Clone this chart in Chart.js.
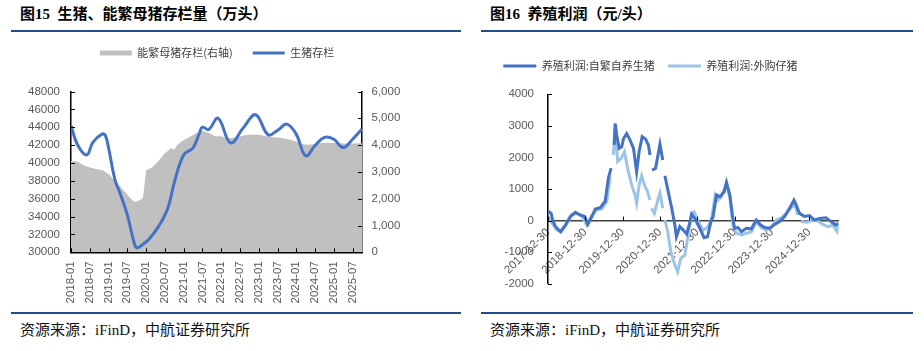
<!DOCTYPE html>
<html lang="zh">
<head>
<meta charset="UTF-8">
<title>生猪存栏与养殖利润</title>
<script src="https://cdn.jsdelivr.net/npm/chart.js"></script>
<style>
    body {
        margin: 0;
        width: 924px;
        height: 351px;
        background: #fff;
        position: relative;
        overflow: hidden;
    }
    .title {
        position: absolute;
        top: 4px;
        font: bold 15px/20px "Liberation Serif", "Noto Sans CJK SC", serif;
        color: #000;
        white-space: nowrap;
    }
    .rule {
        position: absolute;
        height: 2px;
        background: #1f4e8c;
    }
    .source {
        position: absolute;
        top: 320px;
        font: 15px/20px "Liberation Serif", "Noto Sans CJK SC", serif;
        color: #111;
        white-space: nowrap;
    }
    .box { position: absolute; }
</style>
</head>
<body>
    <div class="title" style="left:20px">图15&nbsp;&nbsp;生猪、能繁母猪存栏量（万头）</div>
    <div class="rule" style="left:11px;width:450px;top:30px"></div>
    <div class="box" style="left:0;top:27px;width:434px;height:283px"><canvas id="hogChart"></canvas></div>
    <div class="rule" style="left:11px;width:450px;top:312px"></div>
    <div class="source" style="left:20px">资源来源：iFinD，中航证券研究所</div>

    <div class="title" style="left:490px">图16&nbsp;&nbsp;养殖利润（元/头）</div>
    <div class="rule" style="left:481px;width:432px;top:30px"></div>
    <div class="box" style="left:462px;top:35px;width:432px;height:275px"><canvas id="profitChart"></canvas></div>
    <div class="rule" style="left:481px;width:432px;top:312px"></div>
    <div class="source" style="left:490px">资源来源：iFinD，中航证券研究所</div>

<script>
// 图15：月序号 0 = 2018-01
const hogMonths = [0, 2, 5, 7, 10, 11, 12, 14, 16, 18, 20, 21, 23, 25, 28, 31, 33, 36, 39, 41,
    42, 44, 47, 51, 55, 59, 63, 66, 69, 72, 75, 78, 81, 84, 87, 90, 93];
const hogStock = [44200, 42100, 40900, 42300, 43250, 43050, 41700, 38200, 36300, 34200,
    31300, 30500, 30900, 31500, 32900, 35000, 37800, 40900, 41700, 43300,
    44000, 43750, 45000, 42250, 43900, 45400, 43150, 43650, 44350, 43200,
    40800, 41950, 42870, 42650, 41720, 42650, 43800];
const sowMonths = [0, 2, 4, 6, 8, 10, 12, 14, 16, 18, 19, 20, 21, 22, 23, 24, 26, 28, 30, 32,
    33, 34, 36, 38, 40, 42, 44, 46, 48, 50, 52, 54, 56, 58, 60, 62, 64, 66, 68, 70,
    72, 74, 76, 78, 80, 82, 84, 86, 88, 90, 93];
const sowStock = [3410, 3390, 3250, 3160, 3110, 3070, 2925, 2660, 2420, 2150,
    2015, 1900, 1900, 1950, 2030, 3050, 3170, 3420, 3700, 3880,
    3830, 4010, 4190, 4310, 4440, 4540, 4460, 4330, 4330, 4260,
    4270, 4320, 4380, 4400, 4390, 4340, 4300, 4280, 4255, 4200,
    4130, 4030, 4010, 4040, 4080, 4090, 4080, 4070, 4050, 4060, 4070];
const hogTickLabels = ['2018-01', '2018-07', '2019-01', '2019-07', '2020-01', '2020-07',
    '2021-01', '2021-07', '2022-01', '2022-07', '2023-01', '2023-07',
    '2024-01', '2024-07', '2025-01', '2025-07'];

// 图16：月序号 0 = 2017-12-30
const selfMonths = [0, 1, 1.5, 2.4, 4, 5.6, 7.2, 8.8, 10.4, 11.8,
    12.8, 14.1, 15.2, 16.8, 18.4, 19.4, 20.3, 20.8, 21.3, 21.6,
    22.1, 22.9, 23.7, 24.3, 25.3, 26.4, 27.5, 28.5, 29.3, 30.3,
    31.4, 32.3, 32.8, 33.1, 33.5, 34.6, 36, 36.9, 37.2, 37.6,
    38.9, 39.7, 40.8, 41.3, 42.4, 43.5, 44.6, 45.5, 46.2, 47.2,
    48.8, 50.2, 51.3, 52.4, 53.1, 54.2, 55.3, 56.7, 57.4, 58.5,
    59.3, 60, 61.1, 62.2, 63.8, 65.4, 67, 68.4, 69.7, 71.3,
    72.9, 74.5, 76.1, 77.7, 79.1, 79.8, 80.9, 82.5, 84.1, 85.7,
    87.3, 89.4, 91, 92.6, 93.4];
const selfProfit = [306, 230, 20, -190, -350, -140, 130, 265, 180, 130,
    -120, 130, 370, 410, 620, 1340, 1660, null, 2400, 3080,
    2710, 2290, 2340, 2600, 2760, 2550, 2290, 1550, 2180, 2660,
    2580, 2390, 2080, null, 1600, 1660, 2420, 1920, null, 1420,
    810, 440, -140, -510, -190, -300, -420, -100, 200, 70,
    -240, -540, -510, -30, 130, 810, 760, 920, 1210, 810,
    180, -240, -220, -350, -240, -260, 20, -140, -220, -240,
    -120, -30, 130, 390, 650, 500, 230, 130, 160, 20,
    70, 90, -30, -140, -80];
const buyMonths = [0, 1.3, 2.9, 4.3, 5.8, 7.7, 9.3, 10.9, 12.5, 14.1,
    15.7, 17.3, 18.9, 20, 20.4, 21, 21.6, 22.4, 23.5, 24.6,
    25.6, 26.9, 28, 28.5, 29.3, 30.1, 31, 32, 32.8, 33,
    33.3, 34.2, 35.5, 36, 36.9, 37.2, 37.6, 38.5, 39.5, 40.8,
    41.7, 42.7, 44, 45.1, 46.2, 47, 48.3, 49.9, 51.5, 52.6,
    53.8, 54.7, 55.8, 57.4, 58.5, 59.5, 60.6, 62.2, 63.8, 65.4,
    67, 68.6, 70.2, 71.8, 73.4, 75, 76.6, 78.2, 79.5, 80.3,
    80.6, 81.4, 83.5, 85.1, 86.8, 88.4, 90, 91.6, 93, 93.4];
const buyProfit = [130, -80, -300, -350, -140, 200, 230, 130, -140, 160,
    340, 370, 600, 1390, null, 2080, 2920, 1870, 1970, 2180,
    1660, 1130, 810, 550, 1130, 1420, 1130, 920, 650, null,
    390, 230, 710, 870, 390, null, 20, -350, -980, -1400,
    -1620, -1190, -1090, -450, 230, 280, -30, -300, -190, 70,
    810, 650, 760, 1180, 710, -140, -400, -450, -400, -350,
    -30, -220, -300, -220, 20, 90, 230, 410, 500, 180,
    null, -30, -50, 20, -10, -120, -190, -140, -350, -140];
const profitTickLabels = ['2017-12-30', '2018-12-30', '2019-12-30', '2020-12-30',
    '2021-12-30', '2022-12-30', '2023-12-30', '2024-12-30'];

const toPoints = (xs, ys) => xs.map((x, i) => ({ x: x, y: ys[i] }));

const tickFont = { family: '"Liberation Sans", Arial, sans-serif', size: 11.5 };
const legendFont = { family: '"Noto Sans CJK SC", sans-serif', size: 11 };
const tickColor = '#595959';

// 给图例下方多留一点空
const legendGap = {
    id: 'legendGap',
    beforeInit(chart, args, opts) {
        const fit = chart.legend.fit;
        chart.legend.fit = function () {
            fit.call(this);
            this.height += opts.extra || 0;
        };
    }
};

// 坐标轴刻度线画在图内侧
const innerTicks = {
    id: 'innerTicks',
    afterDraw(chart, args, opts) {
        const ctx = chart.ctx;
        const a = chart.chartArea;
        const len = opts.len || 4;
        ctx.save();
        ctx.strokeStyle = opts.color || '#000';
        ctx.lineWidth = 1;
        (opts.axes || []).forEach(id => {
            const s = chart.scales[id];
            s.ticks.forEach((t, i) => {
                const p = Math.round(s.getPixelForTick(i)) + 0.5;
                ctx.beginPath();
                if (s.axis === 'y') {
                    const x0 = s.position === 'right' ? a.right : a.left;
                    ctx.moveTo(x0, p);
                    ctx.lineTo(s.position === 'right' ? x0 - len : x0 + len, p);
                } else {
                    const y0 = opts.xAtZero ? chart.scales.y.getPixelForValue(0) : a.bottom;
                    ctx.moveTo(p, y0);
                    ctx.lineTo(p, y0 - len);
                }
                ctx.stroke();
            });
        });
        ctx.restore();
    }
};

new Chart(document.getElementById('hogChart'), {
    type: 'line',
    data: {
        datasets: [
            {
                label: '能繁母猪存栏(右轴)',
                data: toPoints(sowMonths, sowStock),
                yAxisID: 'y1',
                fill: 'origin',
                backgroundColor: '#c0c0c0',
                borderColor: 'rgba(0,0,0,0)',
                borderWidth: 0,
                pointRadius: 0,
                pointStyle: 'rect',
                tension: 0,
                order: 2
            },
            {
                label: '生猪存栏',
                data: toPoints(hogMonths, hogStock),
                yAxisID: 'y',
                fill: false,
                borderColor: '#4472c4',
                backgroundColor: '#4472c4',
                borderWidth: 3,
                pointRadius: 0,
                pointStyle: 'line',
                tension: 0.4,
                order: 1
            }
        ]
    },
    options: {
        responsive: true,
        maintainAspectRatio: false,
        animation: false,
        layout: { padding: { top: 0.5, left: 0, right: 0, bottom: 0 } },
        plugins: {
            legend: {
                position: 'top',
                labels: {
                    usePointStyle: true,
                    pointStyleWidth: 32,
                    boxHeight: 5,
                    padding: 20,
                    color: '#404040',
                    font: legendFont,
                    sort: (a, b) => a.datasetIndex - b.datasetIndex
                }
            },
            tooltip: { enabled: false },
            legendGap: { extra: 23 },
            innerTicks: { axes: ['y', 'y1', 'x'], len: 4 }
        },
        scales: {
            x: {
                type: 'linear',
                min: 0,
                max: 93,
                afterFit: s => { s.height = 57.7; },
                afterBuildTicks: s => { s.ticks = s.ticks.filter(t => t.value % 6 === 0); },
                grid: { drawOnChartArea: false, drawTicks: false },
                border: { color: '#000', width: 1.5 },
                ticks: {
                    stepSize: 6,
                    includeBounds: false,
                    autoSkip: false,
                    minRotation: 90,
                    maxRotation: 90,
                    padding: 9,
                    color: tickColor,
                    font: tickFont,
                    callback: v => hogTickLabels[v / 6]
                }
            },
            y: {
                position: 'left',
                min: 30000,
                max: 48000,
                afterFit: s => { s.width = 71; },
                grid: { drawOnChartArea: false, drawTicks: false },
                border: { color: '#000', width: 1.5 },
                ticks: { stepSize: 2000, padding: 11, color: tickColor, font: tickFont, callback: v => String(v) }
            },
            y1: {
                position: 'right',
                min: 0,
                max: 6000,
                afterFit: s => { s.width = 72; },
                grid: { drawOnChartArea: false, drawTicks: false },
                border: { color: '#000', width: 1.5 },
                ticks: { stepSize: 1000, padding: 9.5, color: tickColor, font: tickFont, callback: v => v.toLocaleString('en-US') }
            }
        }
    },
    plugins: [legendGap, innerTicks]
});

new Chart(document.getElementById('profitChart'), {
    type: 'line',
    data: {
        datasets: [
            {
                label: '养殖利润:自繁自养生猪',
                data: toPoints(selfMonths, selfProfit),
                borderColor: '#4472c4',
                backgroundColor: '#4472c4',
                borderWidth: 3,
                pointRadius: 0,
                pointStyle: 'line',
                tension: 0,
                spanGaps: false
            },
            {
                label: '养殖利润:外购仔猪',
                data: toPoints(buyMonths, buyProfit),
                borderColor: '#9dc3e6',
                backgroundColor: '#9dc3e6',
                borderWidth: 3,
                pointRadius: 0,
                pointStyle: 'line',
                tension: 0,
                spanGaps: false
            }
        ]
    },
    options: {
        responsive: true,
        maintainAspectRatio: false,
        animation: false,
        layout: { padding: { top: 12.5, left: 0, right: 55.3, bottom: 26.2 } },
        plugins: {
            legend: {
                position: 'top',
                labels: {
                    usePointStyle: true,
                    pointStyleWidth: 33,
                    boxHeight: 5,
                    padding: 13,
                    color: '#404040',
                    font: legendFont
                }
            },
            tooltip: { enabled: false },
            legendGap: { extra: 12.8 },
            innerTicks: { axes: ['y', 'x'], len: 4, xAtZero: true }
        },
        scales: {
            x: {
                type: 'linear',
                position: { y: 0 },
                min: 0,
                max: 93.5,
                afterBuildTicks: s => { s.ticks = s.ticks.filter(t => t.value % 12 === 0); },
                grid: { drawOnChartArea: false, drawTicks: false },
                border: { color: '#404040', width: 1.5 },
                ticks: {
                    stepSize: 12,
                    includeBounds: false,
                    autoSkip: false,
                    minRotation: 45,
                    maxRotation: 45,
                    padding: 5,
                    color: tickColor,
                    font: tickFont,
                    callback: v => profitTickLabels[v / 12]
                }
            },
            y: {
                position: 'left',
                min: -2000,
                max: 4000,
                afterFit: s => { s.width = 86; },
                grid: { drawOnChartArea: false, drawTicks: false },
                border: { color: '#000', width: 1.5 },
                ticks: { stepSize: 1000, padding: 14, color: tickColor, font: tickFont, callback: v => String(v) }
            }
        }
    },
    plugins: [legendGap, innerTicks]
});
</script>
</body>
</html>
